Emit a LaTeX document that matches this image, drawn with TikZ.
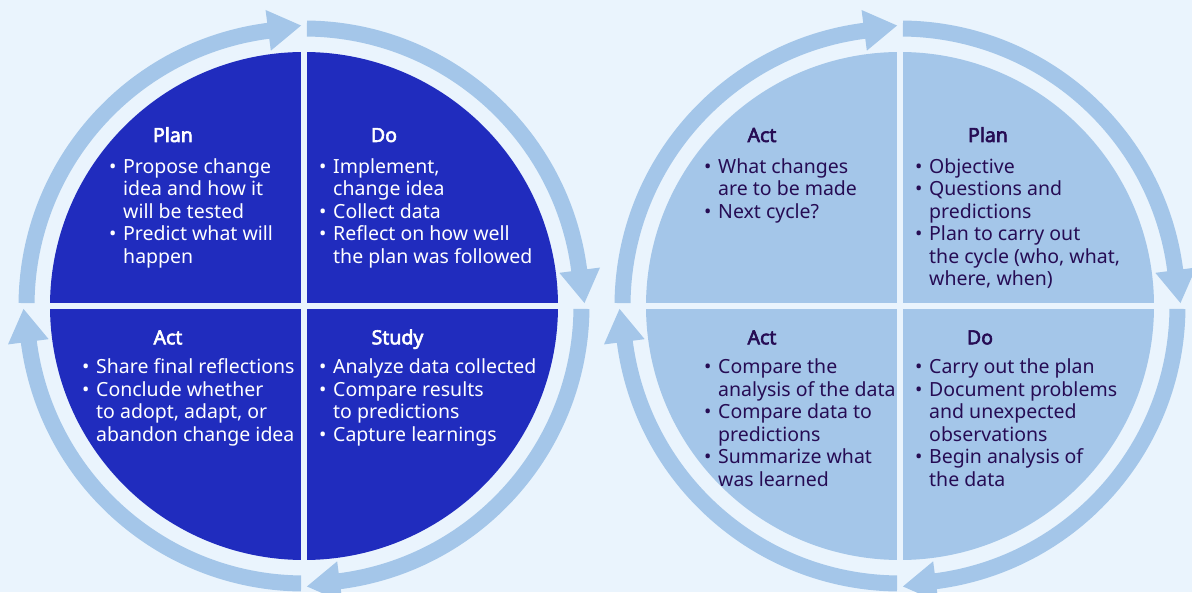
\documentclass[tikz,border=0pt]{standalone}
\usepackage{fontspec}
\setmainfont{Noto Sans}[AutoFakeBold=3]
\usepackage{xcolor}
\usepackage{tikz}
\definecolor{pageBg}{RGB}{234,244,253}
\definecolor{deepBlue}{RGB}{32,44,190}
\definecolor{paleBlue}{RGB}{164,198,233}
\definecolor{inkPurple}{RGB}{38,12,84}
\newcommand{\itemdot}{\makebox[14pt][l]{\textbullet}}
\newcommand{\itemgap}{\hspace*{14pt}}
\newcommand{\itemrows}[1]{\begin{tabular}[t]{@{}l@{}}#1\end{tabular}}

\begin{document}
\begin{tikzpicture}[x=1pt,y=1pt,
			title/.style={font=\bfseries\fontsize{19.5}{22.5}\selectfont,anchor=base,inner sep=0pt},
			items/.style={font=\fontsize{19.5}{22.5}\selectfont,anchor=base west,inner sep=0pt},
			band/.style={draw=paleBlue,line width=16pt}]
		\fill[pageBg] (0,0) rectangle (1192,592);
		\useasboundingbox (0,0) rectangle (1192,592);
		\foreach \cx/\col in {304/deepBlue,900/paleBlue}{
			\begin{scope}[shift={(\cx,286)}]
				\fill[\col] (0,0) circle (254);
				\draw[pageBg,line width=5.5pt] (-256,0) -- (256,0) (0,-256) -- (0,256);
				\foreach \a in {0,90,180,270}{
					\draw[band] (\a+89.4:277.5) arc (\a+89.4:\a+7:277.5);
					\fill[paleBlue] (\a+7.4:257.5) -- (\a+7.4:298.5) -- (\a+0.6:280.5) -- cycle;
				}
			\end{scope}
		}
		\node[title,white] (planL) at (173,450) {Plan};
		\node[items,white] (planLi) at (109,418.7) {\itemrows{\itemdot Propose change\\\itemgap idea and how it\\\itemgap will be tested\\\itemdot Predict what will\\\itemgap happen}};
		\node[title,white] (doL) at (384,450) {Do};
		\node[items,white] (doLi) at (319,418.7) {\itemrows{\itemdot Implement,\\\itemgap change idea\\\itemdot Collect data\\\itemdot Reflect on how well\\\itemgap the plan was followed}};
		\node[title,white] (actL) at (168,247.7) {Act};
		\node[items,white] (actLi) at (82,218.3) {\itemrows{\itemdot Share final reflections\\\itemdot Conclude whether\\\itemgap to adopt, adapt, or\\\itemgap abandon change idea}};
		\node[title,white] (studyL) at (397.5,247.7) {Study};
		\node[items,white] (studyLi) at (319,218.3) {\itemrows{\itemdot Analyze data collected\\\itemdot Compare results\\\itemgap to predictions\\\itemdot Capture learnings}};
		\node[title,inkPurple] (actR) at (762,450) {Act};
		\node[items,inkPurple] (actRi) at (704,418.7) {\itemrows{\itemdot What changes\\\itemgap are to be made\\\itemdot Next cycle?}};
		\node[title,inkPurple] (planR) at (988,450) {Plan};
		\node[items,inkPurple] (planRi) at (915,418.7) {\itemrows{\itemdot Objective\\\itemdot Questions and\\\itemgap predictions\\\itemdot Plan to carry out\\\itemgap the cycle (who, what,\\\itemgap where, when)}};
		\node[title,inkPurple] (checkR) at (762,247.7) {Act};
		\node[items,inkPurple] (checkRi) at (704,218.3) {\itemrows{\itemdot Compare the\\\itemgap analysis of the data\\\itemdot Compare data to\\\itemgap predictions\\\itemdot Summarize what\\\itemgap was learned}};
		\node[title,inkPurple] (doR) at (980,247.7) {Do};
		\node[items,inkPurple] (doRi) at (915,218.3) {\itemrows{\itemdot Carry out the plan\\\itemdot Document problems\\\itemgap and unexpected\\\itemgap observations\\\itemdot Begin analysis of\\\itemgap the data}};
\end{tikzpicture}
\end{document}
